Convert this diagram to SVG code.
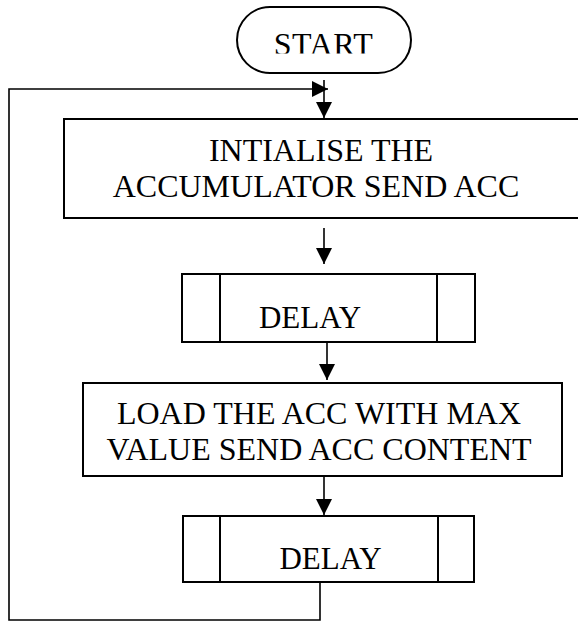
<svg xmlns="http://www.w3.org/2000/svg" width="578" height="622" viewBox="0 0 578 622">
<style>
.box{fill:#fff;stroke:#000;stroke-width:2}
.ln{fill:none;stroke:#000;stroke-width:1.6}
.t{font-family:"Liberation Serif","Times New Roman",serif;font-size:32px;fill:#000;text-anchor:middle}
</style>
<defs>
<marker id="ah" markerUnits="userSpaceOnUse" markerWidth="16" markerHeight="16" viewBox="0 0 16 16" refX="16" refY="8" orient="auto">
<path d="M0,0 L16,8 L0,16 Z" fill="#000"/>
</marker>
<clipPath id="sc"><rect x="230" y="0" width="190" height="53.5"/></clipPath>
</defs>
<rect width="578" height="622" fill="#fff"/>
<g id="connectors">
<line class="ln" x1="324" y1="80" x2="324" y2="118" marker-end="url(#ah)"/>
<polyline class="ln" points="320,582 320,620 9,620 9,89 328,89" marker-end="url(#ah)"/>
<line class="ln" x1="324" y1="228" x2="324" y2="264" marker-end="url(#ah)"/>
<line class="ln" x1="327" y1="342" x2="327" y2="380" marker-end="url(#ah)"/>
<line class="ln" x1="324" y1="477" x2="324" y2="515" marker-end="url(#ah)"/>
</g>
<g id="start">
<rect class="box" x="237" y="7" width="174" height="66" rx="33"/>
<text class="t" x="323.5" y="55" letter-spacing="0.5" clip-path="url(#sc)">START</text>
</g>
<g id="init">
<rect class="box" x="64" y="119" width="530" height="99"/>
<text class="t" x="321" y="161">INTIALISE THE</text>
<text class="t" x="316" y="197">ACCUMULATOR SEND ACC</text>
</g>
<g id="delay1">
<rect class="box" x="182" y="274" width="293" height="68"/>
<line class="ln" x1="220" y1="274" x2="220" y2="342" style="stroke-width:2"/>
<line class="ln" x1="437" y1="274" x2="437" y2="342" style="stroke-width:2"/>
<text class="t" x="310" y="328" style="font-size:31px">DELAY</text>
</g>
<g id="load">
<rect class="box" x="83" y="383" width="479" height="93"/>
<text class="t" x="319" y="424">LOAD THE ACC WITH MAX</text>
<text class="t" x="319" y="460">VALUE SEND ACC CONTENT</text>
</g>
<g id="delay2">
<rect class="box" x="183" y="516" width="291" height="66"/>
<line class="ln" x1="220" y1="516" x2="220" y2="582" style="stroke-width:2"/>
<line class="ln" x1="438" y1="516" x2="438" y2="582" style="stroke-width:2"/>
<text class="t" x="330.5" y="569" style="font-size:31px">DELAY</text>
</g>
</svg>
